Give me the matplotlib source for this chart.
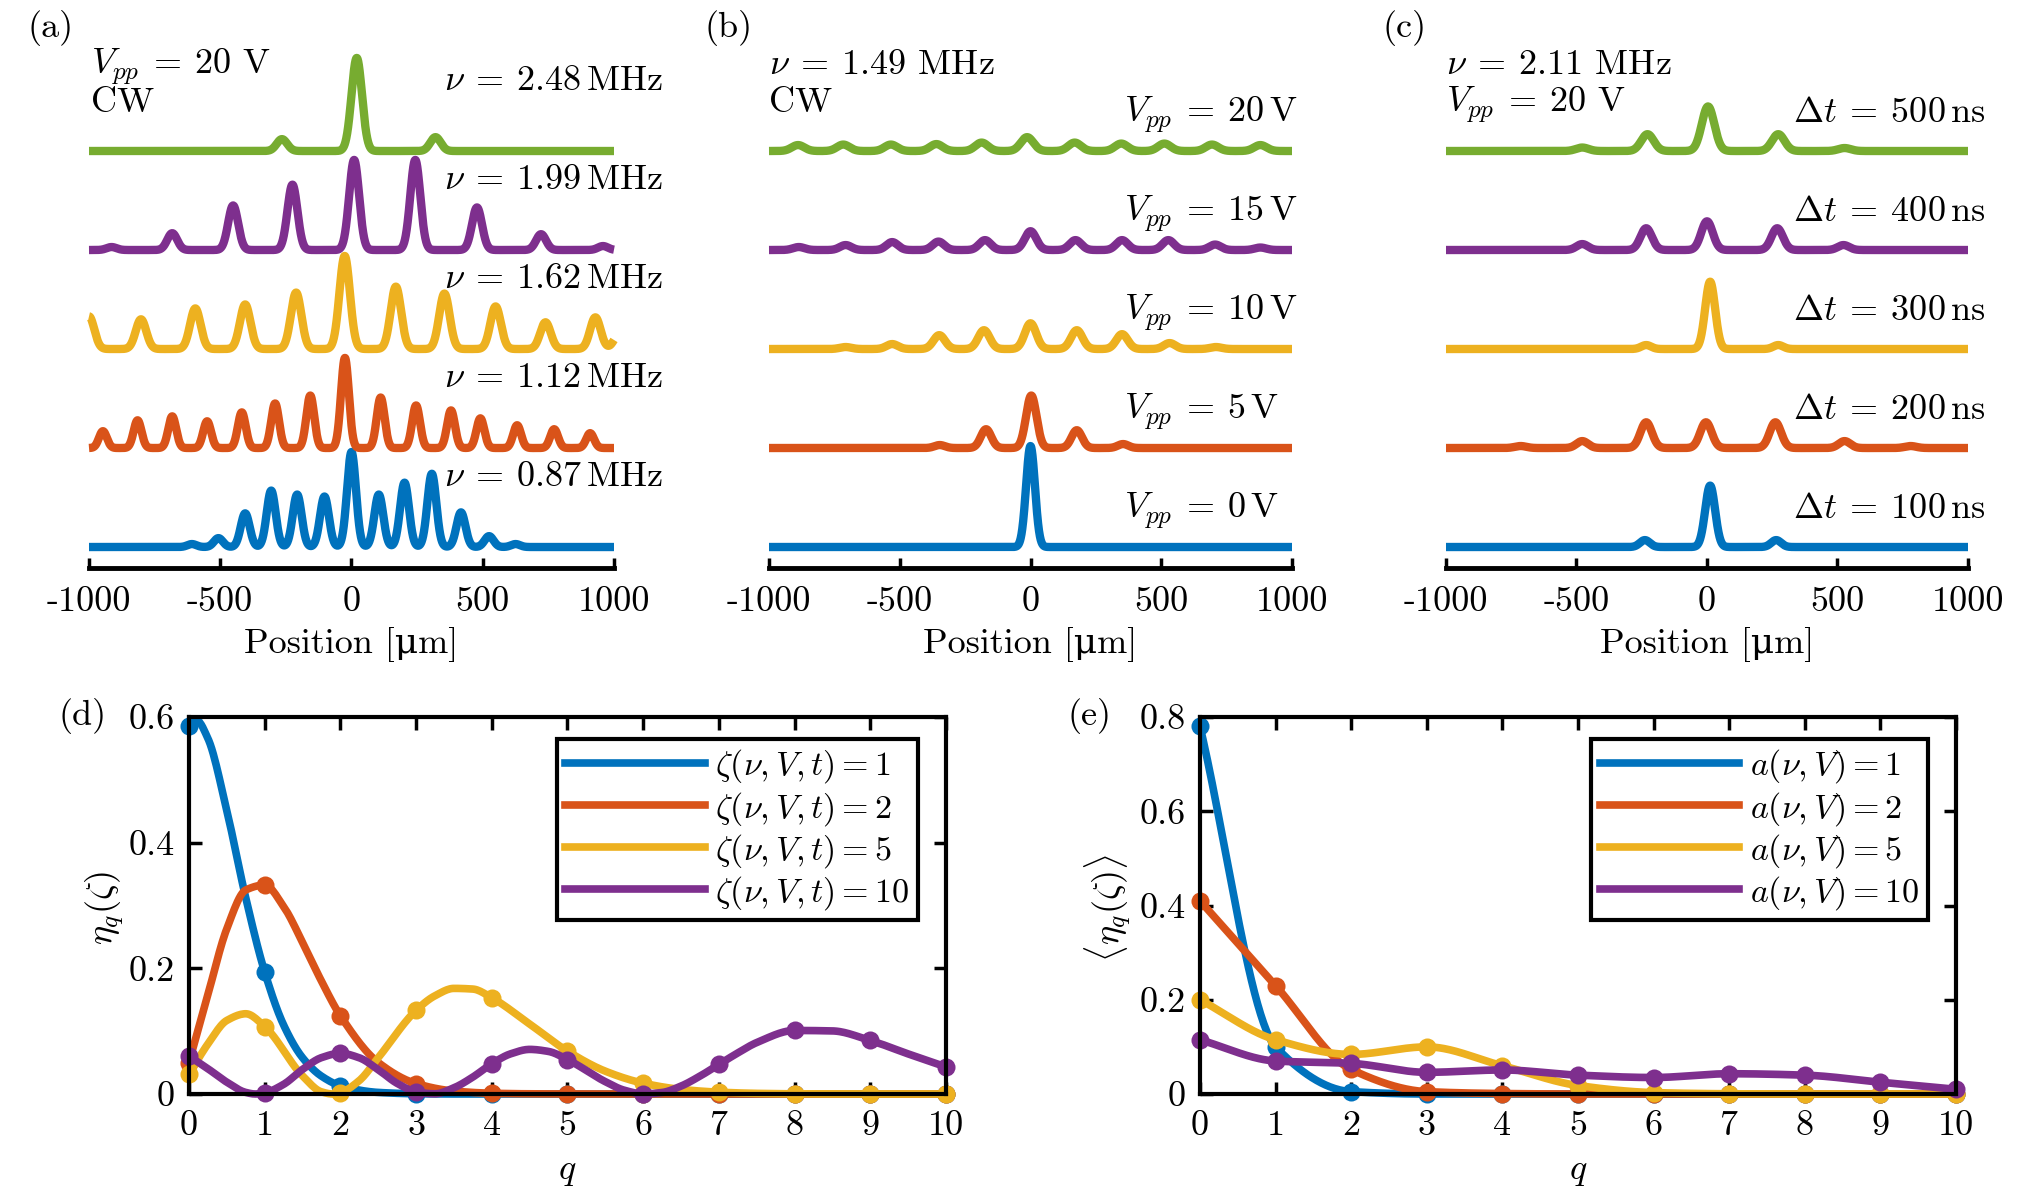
import numpy as np
import matplotlib.pyplot as plt

plt.rcParams['font.family'] = ['cmr10', 'DejaVu Serif']
plt.rcParams['mathtext.fontset'] = 'cm'
plt.rcParams['axes.unicode_minus'] = False

W, H = 2031, 1197

# MATLAB default line colours
blue, orange, yellow, purple, green = '#0072BD', '#D95319', '#EDB120', '#7E2F8E', '#77AC30'
trace_colors = [blue, orange, yellow, purple, green]

# ---------------- top row: density profiles (peak position [um], height, width [um]) -----
# traces are listed bottom to top
a_labels = [r'$\nu \:=\: 0.87\,\mathrm{MHz}$', r'$\nu \:=\: 1.12\,\mathrm{MHz}$',
            r'$\nu \:=\: 1.62\,\mathrm{MHz}$', r'$\nu \:=\: 1.99\,\mathrm{MHz}$',
            r'$\nu \:=\: 2.48\,\mathrm{MHz}$']
a_pos = [[-608, -507, -405, -306, -207, -103, 0, 104, 202, 306, 417, 524, 625],
         [-947, -815, -683, -550, -418, -291, -157, -25, 111, 246, 379, 491, 631, 772, 909],
         [-1000, -802, -595, -405, -211, -26, 169, 354, 549, 739, 929, 1020],
         [-914, -683, -451, -225, 10, 243, 478, 722, 958],
         [-265, 20, 320]]
a_amp = [[0.03, 0.09, 0.34, 0.57, 0.53, 0.51, 0.96, 0.53, 0.65, 0.74, 0.35, 0.11, 0.03],
         [0.17, 0.28, 0.32, 0.27, 0.36, 0.45, 0.53, 0.91, 0.51, 0.43, 0.38, 0.30, 0.23, 0.19, 0.15],
         [0.33, 0.30, 0.41, 0.45, 0.57, 0.94, 0.63, 0.56, 0.43, 0.27, 0.32, 0.15],
         [0.03, 0.17, 0.45, 0.66, 0.91, 0.91, 0.43, 0.16, 0.04],
         [0.12, 0.94, 0.14]]
a_width = [17, 15, 20, 19, 20]

b_labels = [r'$V_{pp} \:=\: 0\,\mathrm{V}$', r'$V_{pp} \:=\: 5\,\mathrm{V}$',
            r'$V_{pp} \:=\: 10\,\mathrm{V}$', r'$V_{pp} \:=\: 15\,\mathrm{V}$',
            r'$V_{pp} \:=\: 20\,\mathrm{V}$']
b_pos = [[0],
         [-347, -170, 3, 177, 354],
         [-707, -529, -349, -178, 0, 177, 350, 532, 709],
         [-886, -707, -529, -352, -174, 0, 172, 350, 527, 706, 879],
         [-889, -716, -534, -360, -187, -13, 169, 347, 512, 694, 879]]
b_amp = [[1.02],
         [0.03, 0.19, 0.53, 0.18, 0.04],
         [0.02, 0.05, 0.14, 0.19, 0.26, 0.19, 0.15, 0.06, 0.02],
         [0.03, 0.05, 0.08, 0.085, 0.10, 0.19, 0.10, 0.10, 0.10, 0.055, 0.025],
         [0.06, 0.065, 0.065, 0.07, 0.085, 0.14, 0.085, 0.075, 0.075, 0.065, 0.06]]
b_width = [17, 20, 22, 22, 24]

c_labels = [r'$\Delta t \:=\: 100\,\mathrm{ns}$', r'$\Delta t \:=\: 200\,\mathrm{ns}$',
            r'$\Delta t \:=\: 300\,\mathrm{ns}$', r'$\Delta t \:=\: 400\,\mathrm{ns}$',
            r'$\Delta t \:=\: 500\,\mathrm{ns}$']
c_pos = [[-238, 12, 265],
         [-714, -478, -233, -4, 262, 527, 780],
         [-233, 12, 273],
         [-478, -233, 0, 269, 523],
         [-478, -228, 4, 273, 527]]
c_amp = [[0.07, 0.62, 0.07],
         [0.02, 0.07, 0.26, 0.26, 0.26, 0.07, 0.02],
         [0.04, 0.68, 0.04],
         [0.06, 0.22, 0.29, 0.22, 0.05],
         [0.035, 0.17, 0.45, 0.17, 0.03]]
c_width = [19, 22, 19, 22, 24]

pos_ticks = [-1000, -500, 0, 500, 1000]
pos_ticklabels = ['-1000', '-500', '0', '500', '1000']

# ---------------- bottom row ----------------
# (d) eta_q(zeta): curve samples, markers sit at the integer q
d_labels = [r'$\zeta(\nu,V,t) = 1$', r'$\zeta(\nu,V,t) = 2$', r'$\zeta(\nu,V,t) = 5$', r'$\zeta(\nu,V,t) = 10$']
d_q = [
    [0, 0.1, 0.25, 0.5, 0.75, 1, 1.25, 1.5, 1.75, 2, 2.5, 3, 3.5, 4, 5, 6, 7, 8, 9, 10],
    [0, 0.25, 0.5, 0.75, 1, 1.25, 1.5, 1.75, 2, 2.5, 3, 3.5, 4, 4.5, 5, 6, 7, 8, 9, 10],
    [0, 0.25, 0.5, 0.75, 1, 1.5, 1.75, 1.9, 2, 2.25, 2.5, 3, 3.25, 3.5, 3.75, 4, 4.5, 5, 5.5, 6,
     6.5, 7, 7.5, 8, 8.5, 9, 10],
    [0, 0.25, 0.5, 0.75, 0.875, 1, 1.25, 1.5, 1.75, 2, 2.25, 2.5, 2.75, 3, 3.25, 3.5, 3.75, 4,
     4.25, 4.5, 4.75, 5, 5.5, 5.75, 6, 6.25, 6.5, 6.75, 7, 7.25, 7.5, 8, 8.5, 9, 9.5, 10]]
d_eta = [
    [0.5855, 0.5946, 0.5658, 0.4508, 0.3121, 0.1942, 0.1098, 0.0577, 0.0284, 0.0132, 0.0025,
     0.0004, 0, 0, 0, 0, 0, 0, 0, 0],
    [0.0501, 0.1583, 0.2632, 0.3247, 0.3326, 0.2983, 0.2414, 0.1796, 0.1245, 0.0501, 0.0166,
     0.0047, 0.0012, 0.0003, 0.0001, 0, 0, 0, 0, 0],
    [0.0315, 0.0797, 0.1171, 0.1277, 0.1073, 0.0288, 0.0034, 0.0, 0.0022, 0.0214, 0.0578, 0.1331,
     0.1564, 0.1681, 0.1670, 0.1531, 0.1113, 0.0682, 0.0363, 0.0172, 0.0073, 0.0029, 0.0010,
     0.0003, 0.0001, 0, 0],
    [0.0605, 0.0402, 0.0188, 0.0025, 0.0, 0.0019, 0.0154, 0.0392, 0.0579, 0.0648, 0.0576, 0.0387,
     0.0169, 0.0034, 0.0003, 0.0099, 0.0270, 0.0482, 0.0640, 0.0710, 0.0677, 0.0548, 0.0196,
     0.0060, 0.0002, 0.0024, 0.0126, 0.0285, 0.0470, 0.0654, 0.0819, 0.1011, 0.1004, 0.0852,
     0.0638, 0.0431]]

# (e) <eta_q(zeta)>
e_labels = [r'$a(\nu,V) = 1$', r'$a(\nu,V) = 2$', r'$a(\nu,V) = 5$', r'$a(\nu,V) = 10$']
e_q = list(range(11))
e_eta = [
    [0.78, 0.10, 0.005, 0.0, 0, 0, 0, 0, 0, 0, 0],
    [0.41, 0.23, 0.052, 0.005, 0.001, 0, 0, 0, 0, 0, 0],
    [0.20, 0.115, 0.084, 0.10, 0.06, 0.018, 0.003, 0.0005, 0, 0, 0],
    [0.115, 0.07, 0.065, 0.046, 0.051, 0.04, 0.035, 0.043, 0.04, 0.025, 0.01]]
series_colors = [blue, orange, yellow, purple]


def profile(x, pos, amp, width):
    y = np.zeros_like(x)
    for p, a in zip(pos, amp):
        y += a * np.exp(-(x - p) ** 2 / (2 * width ** 2))
    return y


def smooth(qs, vals, n=500):
    # monotone cubic (pchip) through the samples, only for drawing
    qs = np.asarray(qs, float)
    v = np.asarray(vals, float)
    h = np.diff(qs)
    d = np.diff(v) / h
    m = np.zeros_like(v)
    m[0], m[-1] = d[0], d[-1]
    for i in range(1, len(v) - 1):
        if d[i - 1] * d[i] > 0:
            w1, w2 = 2 * h[i] + h[i - 1], h[i] + 2 * h[i - 1]
            m[i] = (w1 + w2) / (w1 / d[i - 1] + w2 / d[i])
    qq = np.linspace(qs[0], qs[-1], n)
    k = np.clip(np.searchsorted(qs, qq, side='right') - 1, 0, len(qs) - 2)
    t = (qq - qs[k]) / h[k]
    yy = ((2 * t**3 - 3 * t**2 + 1) * v[k] + (t**3 - 2 * t**2 + t) * h[k] * m[k]
          + (-2 * t**3 + 3 * t**2) * v[k + 1] + (t**3 - t**2) * h[k] * m[k + 1])
    return qq, yy


fig = plt.figure(figsize=(W / 100, H / 100), dpi=100)


def ftext(x, y, s, **kw):
    kw.setdefault('fontsize', 26)
    fig.text(x / W, 1 - y / H, s, **kw)


x = np.linspace(-1000, 1000, 4001)
top_rects = [[89, 525], [769, 523], [1446, 522]]
top_sets = [(a_pos, a_amp, a_width), (b_pos, b_amp, b_width), (c_pos, c_amp, c_width)]
for (left, wid), (pos, amp, width) in zip(top_rects, top_sets):
    ax = fig.add_axes([left / W, 1 - 568 / H, wid / W, 516 / H])
    for k in range(5):
        ax.plot(x, k + profile(x, pos[k], amp[k], width[k]), color=trace_colors[k], lw=6,
                solid_capstyle='butt', clip_on=False)
    ax.set_xlim(-1000, 1000)
    ax.set_ylim(-0.212, 5.0)
    for s in ['left', 'right', 'top']:
        ax.spines[s].set_visible(False)
    ax.spines['bottom'].set_linewidth(3.5)
    ax.set_yticks([])
    ax.set_xticks(pos_ticks)
    ax.set_xticklabels(pos_ticklabels, fontsize=26)
    ax.tick_params(axis='x', direction='in', length=7, width=2.5, pad=13)
    ax.patch.set_alpha(0)
    ftext(left + wid / 2, 644, 'Position [μm]', ha='center', va='center')

# top row texts
for lab, yb in zip(a_labels, [486, 387, 288, 189, 90.5]):
    ftext(444.5, yb, lab, ha='left', va='baseline')
for lab, yb in zip(b_labels, [518, 419, 320, 221, 122]):
    ftext(1124.5, yb, lab, ha='left', va='baseline')
for lab, yb in zip(c_labels, [518, 419, 320, 221, 122]):
    ftext(1793, yb, lab, ha='left', va='baseline')

ftext(91, 73.7, r'$V_{pp} \:=\: 20$ V', ha='left', va='baseline')
ftext(91, 111.5, 'CW', ha='left', va='baseline')
ftext(769, 73.7, r'$\nu \:=\: 1.49$ MHz', ha='left', va='baseline')
ftext(769, 111.5, 'CW', ha='left', va='baseline')
ftext(1446, 73.7, r'$\nu \:=\: 2.11$ MHz', ha='left', va='baseline')
ftext(1446, 111.5, r'$V_{pp} \:=\: 20$ V', ha='left', va='baseline')

for lab, xc in zip(['(a)', '(b)', '(c)'], [50.5, 728.5, 1404.5]):
    ftext(xc, 28.5, lab, ha='center', va='center')

# bottom row
bottom_rects = [[189, 757], [1200, 756]]
for idx, (left, wid) in enumerate(bottom_rects):
    ax = fig.add_axes([left / W, 1 - 1094 / H, wid / W, 377 / H])
    if idx == 0:
        for qs, vals, col, lab in zip(d_q, d_eta, series_colors, d_labels):
            qq, yy = smooth(qs, vals)
            ax.plot(qq, yy, color=col, lw=5.5, label=lab, clip_on=False)
            qs = np.asarray(qs)
            mask = qs % 1 == 0
            ax.plot(qs[mask], np.asarray(vals)[mask], 'o', color=col, ms=13, mew=0, clip_on=False)
        ax.set_ylim(0, 0.6)
        ax.set_yticks([0, 0.2, 0.4, 0.6])
        ax.set_yticklabels(['0', '0.2', '0.4', '0.6'])
    else:
        for vals, col, lab in zip(e_eta, series_colors, e_labels):
            qq, yy = smooth(e_q, vals)
            ax.plot(qq, yy, color=col, lw=5.5, label=lab, clip_on=False)
            ax.plot(e_q, vals, 'o', color=col, ms=13, mew=0, clip_on=False)
        ax.set_ylim(0, 0.8)
        ax.set_yticks([0, 0.2, 0.4, 0.6, 0.8])
        ax.set_yticklabels(['0', '0.2', '0.4', '0.6', '0.8'])
    ax.set_xlim(0, 10)
    ax.set_xticks(range(11))
    ax.set_xticklabels([str(i) for i in range(11)])
    for s in ax.spines.values():
        s.set_linewidth(3)
    ax.tick_params(which='both', direction='in', top=True, right=True, length=9, width=2.5,
                   labelsize=26)
    ax.tick_params(axis='x', pad=12)
    ax.tick_params(axis='y', pad=10)
    leg = ax.legend(loc='upper right', bbox_to_anchor=(0.9625, 0.9416), fontsize=24.5,
                    handlelength=4.1, handletextpad=0.3, borderaxespad=0, borderpad=0.25,
                    labelspacing=0.12, fancybox=False, framealpha=1, edgecolor='black')
    leg.get_frame().set_linewidth(3)
    ftext(left + wid / 2, 1172, r'$q$', ha='center', va='center')

ftext(105, 908, r'$\eta_q(\zeta)$', rotation=90, ha='center', va='center')
ftext(1108, 908, r'$\langle\eta_q(\zeta)\rangle$', rotation=90, ha='center', va='center')
ftext(83, 716, '(d)', ha='center', va='center')
ftext(1090, 716, '(e)', ha='center', va='center')

fig.savefig('out.png', dpi=100)
